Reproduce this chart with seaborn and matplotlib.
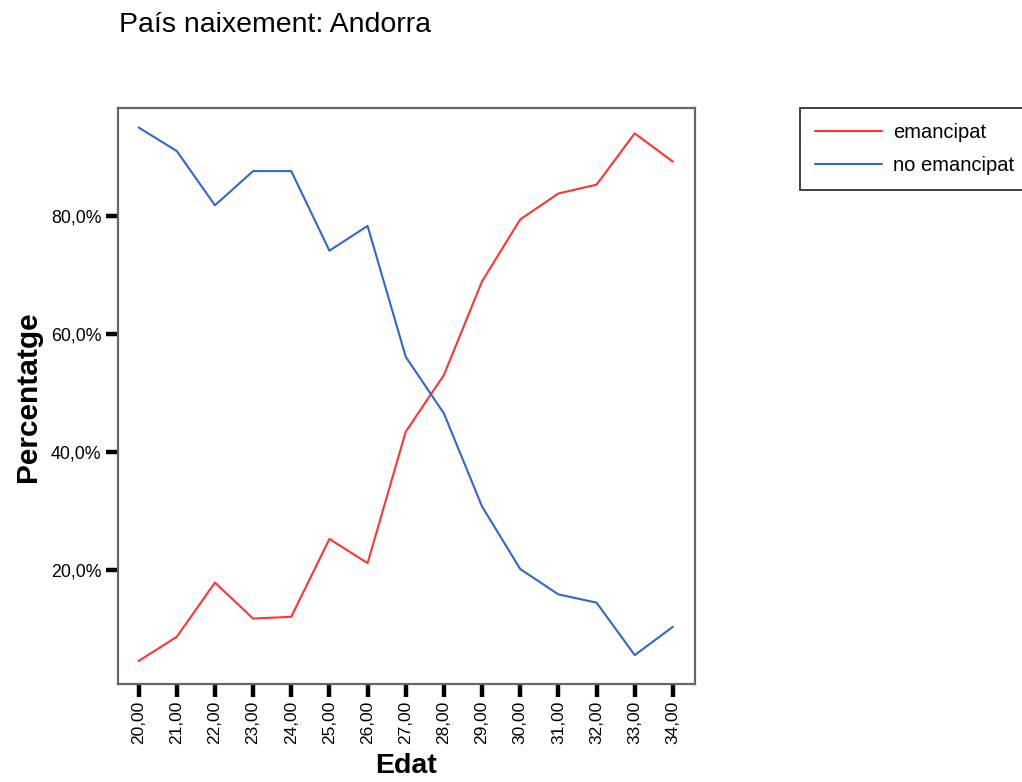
import matplotlib
matplotlib.use("Agg")
import matplotlib.pyplot as plt
import seaborn as sns
import pandas as pd

# ---- data ----
ages = [20, 21, 22, 23, 24, 25, 26, 27, 28, 29, 30, 31, 32, 33, 34]
age_labels = ["20,00", "21,00", "22,00", "23,00", "24,00", "25,00", "26,00",
              "27,00", "28,00", "29,00", "30,00", "31,00", "32,00", "33,00", "34,00"]
emancipat = [4.6, 8.7, 17.9, 11.8, 12.1, 25.3, 21.2, 43.5, 53.1, 69.0, 79.5, 83.9, 85.4, 94.1, 89.3]
no_emancipat = [95.1, 91.1, 81.9, 87.7, 87.7, 74.2, 78.4, 56.2, 46.6, 30.8, 20.2, 15.9, 14.5, 5.6, 10.4]
series_names = ["emancipat", "no emancipat"]
y_ticks = [20, 40, 60, 80]
y_tick_labels = ["20,0%", "40,0%", "60,0%", "80,0%"]
title = "País naixement: Andorra"
x_title = "Edat"
y_title = "Percentatge"

sns.set_style("white")
plt.rcParams["font.family"] = ["Liberation Sans", "DejaVu Sans"]
plt.rcParams["text.color"] = "black"
plt.rcParams["axes.labelcolor"] = "black"
plt.rcParams["xtick.color"] = "black"
plt.rcParams["ytick.color"] = "black"

df = pd.concat([
    pd.DataFrame({"Edat": ages, "Percentatge": emancipat, "Estat": series_names[0]}),
    pd.DataFrame({"Edat": ages, "Percentatge": no_emancipat, "Estat": series_names[1]}),
], ignore_index=True)

palette = {series_names[0]: "#FF3333", series_names[1]: "#3366CC"}

fig = plt.figure(figsize=(10.22, 7.82), dpi=100)
ax = fig.add_axes([118 / 1022, 1 - 684 / 782, 577 / 1022, 576 / 782])

sns.lineplot(data=df, x="Edat", y="Percentatge", hue="Estat", palette=palette,
             linewidth=1.5, ax=ax, sort=False)

handles, labels = ax.get_legend_handles_labels()
ax.get_legend().remove()

ax.set_xlim(19.46, 34.58)
ax.set_ylim(0.7, 98.4)
ax.set_xticks(ages)
ax.set_xticklabels(age_labels, rotation=90, fontsize=12.5)
ax.set_yticks(y_ticks)
ax.set_yticklabels(y_tick_labels, fontsize=12.8)
ax.tick_params(axis="both", direction="out", length=9, width=3.2, color="black",
               labelcolor="black", pad=3, bottom=True, left=True)

for side, sp in ax.spines.items():
    sp.set_color("#666666")
    sp.set_linewidth(1.6)

ax.set_xlabel(x_title, fontsize=20.5, fontweight="bold", va="center", ha="center")
ax.xaxis.set_label_coords(0.499, (684 - 766) / 576)
ax.set_ylabel(y_title, fontsize=21.5, fontweight="bold", va="center", ha="center")
ax.yaxis.set_label_coords((28 - 118) / 577, (684 - 397) / 576)

fig.text(119 / 1022, 1 - 25 / 782, title, fontsize=20.5, ha="left", va="center")

leg = fig.legend(handles, labels, loc="upper left",
                 bbox_to_anchor=(800 / 1022, 1 - 108 / 782),
                 bbox_transform=fig.transFigure,
                 fontsize=14.5, frameon=True, fancybox=False, framealpha=1,
                 edgecolor="#333333", handlelength=3.3, handletextpad=0.55,
                 borderpad=0.75, labelspacing=0.7, borderaxespad=0)
leg.get_frame().set_linewidth(1.3)

fig.savefig("out.png", dpi=100)
